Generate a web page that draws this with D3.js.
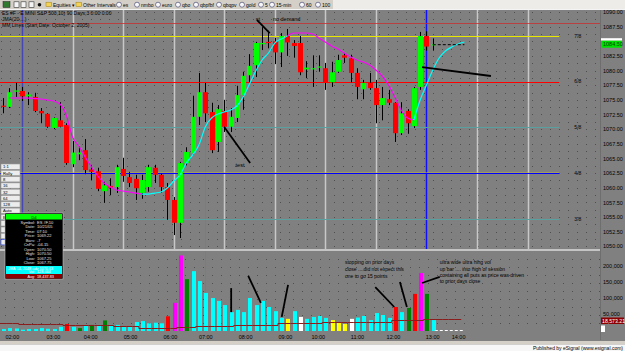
<!DOCTYPE html>
<html>
<head>
<meta charset="utf-8">
<script src="https://cdn.jsdelivr.net/npm/d3@7"></script>
<style>
  body { margin: 0; background: #808080; overflow: hidden; }
  svg { display: block; font-family: "Liberation Sans", Arial, sans-serif; }
</style>
</head>
<body>
<script>
// ES #F 10-min bars, one entry per bar (bar index 0..68)
var opens  = [1074.0, 1073.8, 1076.4, 1076.5, 1075.6, 1075.5, 1073.1, 1072.6, 1070.2, 1071.5,
              1070.7, 1064.0, 1065.7, 1066.4, 1063.1, 1062.8, 1059.4, 1060.3, 1060.1, 1063.2,
              1061.8, 1061.5, 1059.1, 1060.1, 1063.4, 1062.2, 1060.1, 1057.9, 1054.0, 1064.2,
              1065.9, 1072.1, 1076.3, 1072.9, 1067.8, 1073.1, 1070.4, 1071.9, 1075.8, 1079.2,
              1080.9, 1084.5, 1084.9, 1085.0, 1083.1, 1085.9, 1084.7, 1084.7, 1080.2, 1080.3,
              1080.5, 1080.4, 1078.0, 1079.8, 1082.6, 1082.1, 1079.6, 1076.8, 1077.9, 1077.0,
              1074.1, 1075.1, 1074.5, 1069.3, 1073.1, 1070.5, 1077.2, 1085.9, 1084.3];
var highs  = [1075.3, 1077.0, 1077.9, 1077.2, 1076.3, 1076.2, 1073.6, 1072.7, 1072.0, 1074.6,
              1071.0, 1068.0, 1067.1, 1068.3, 1063.9, 1063.4, 1061.0, 1061.6, 1063.9, 1065.1,
              1062.7, 1062.2, 1062.2, 1063.9, 1063.9, 1062.5, 1060.8, 1058.4, 1064.4, 1066.9,
              1075.7, 1079.6, 1077.9, 1074.5, 1074.1, 1075.0, 1073.6, 1077.4, 1079.8, 1082.8,
              1084.9, 1087.4, 1086.8, 1085.6, 1086.4, 1087.1, 1085.2, 1085.9, 1081.6, 1082.6,
              1082.6, 1081.3, 1081.5, 1082.7, 1083.0, 1082.7, 1080.4, 1078.4, 1079.6, 1078.4,
              1077.2, 1076.7, 1074.6, 1074.6, 1073.4, 1077.2, 1086.6, 1086.7, 1085.5];
var lows   = [1072.7, 1073.6, 1075.5, 1074.8, 1074.1, 1072.9, 1071.0, 1070.2, 1070.0, 1070.3,
              1063.9, 1063.5, 1064.7, 1062.3, 1061.3, 1059.4, 1057.4, 1058.7, 1059.1, 1061.0,
              1060.1, 1057.9, 1058.1, 1059.3, 1060.8, 1059.1, 1054.5, 1051.9, 1051.4, 1063.8,
              1065.6, 1070.7, 1071.2, 1065.9, 1066.1, 1069.5, 1069.5, 1071.2, 1073.3, 1077.9,
              1078.9, 1083.5, 1083.8, 1081.1, 1080.6, 1082.5, 1082.2, 1079.2, 1078.7, 1077.2,
              1079.8, 1076.7, 1077.2, 1079.6, 1081.3, 1077.9, 1075.1, 1075.1, 1076.7, 1071.0,
              1071.5, 1074.1, 1067.8, 1069.0, 1069.2, 1070.2, 1076.7, 1083.4, 1083.4];
var closes = [1073.8, 1076.3, 1076.6, 1075.6, 1075.9, 1073.1, 1072.7, 1070.4, 1071.9, 1070.4,
              1064.2, 1066.0, 1066.0, 1063.0, 1062.7, 1059.8, 1060.4, 1060.0, 1063.5, 1062.0,
              1060.8, 1059.9, 1061.3, 1063.5, 1062.2, 1060.1, 1057.9, 1054.0, 1064.2, 1066.1,
              1072.1, 1076.3, 1072.7, 1066.4, 1073.4, 1070.4, 1072.1, 1075.8, 1079.1, 1080.8,
              1084.7, 1084.7, 1084.8, 1083.1, 1085.9, 1084.8, 1084.2, 1079.7, 1080.5, 1080.4,
              1080.7, 1077.9, 1079.7, 1081.8, 1082.2, 1079.6, 1077.2, 1077.9, 1077.0, 1074.1,
              1075.3, 1074.5, 1069.3, 1072.7, 1071.0, 1077.0, 1085.9, 1084.1, 1084.5];

// volume per bar, thousands of contracts
var volumes = [6, 9, 8, 4, 6, 6, 9, 7, 6, 13,
               22, 13, 9, 18, 19, 19, 33, 19, 19, 13,
               13, 28, 31, 24, 26, 24, 46, 88, 236, 162,
               187, 156, 119, 103, 94, 81, 59, 66, 59, 103,
               81, 94, 75, 62, 41, 38, 62, 44, 38, 44,
               47, 41, 34, 28, 22, 38, 42, 47, 34, 56,
               50, 41, 75, 59, 72, 116, 181, 116, 34];
// volume bar class: c=cyan, r=red, g=green, m=magenta, y=yellow, w=white
var volClass = ("cccccccccc" + "rcgcgcg" + "ccccccccc" + "rmmg" + "ccccccccccccccc" +
                "ycw" + "cccc" + "yyyw" + "cccccc" + "rcgrmgc").split("");
// volume average (thousands), bars 0..73
var volAvg = [26, 26, 26, 23, 23, 23, 21, 21, 21, 21, 20, 20, 20, 20, 18, 18, 18, 18,
              16, 16, 16, 16, 10, 10, 10, 10, 10, 10, 13, 13, 13, 17, 17, 17, 17, 17, 17,
              20, 20, 20, 20, 20, 20, 20, 25, 25, 25, 25, 25, 25, 25, 28, 28, 28, 28, 28,
              28, 28, 28, 28, 28, 28, 34, 34, 34, 34, 34, 37, 37, 37, 37, 37, 37, 37];

// JMA(20) values, bars 1..73, and trend of each segment (d = falling, u = rising)
var jmaFirst = 1;
var jma = [1075.31, 1075.31, 1075.31, 1075.30, 1075.22, 1075.14, 1074.97, 1074.80, 1074.28, 1072.41,
           1068.65, 1067.11, 1065.23, 1063.52, 1061.99, 1060.79, 1060.11, 1059.60, 1059.43, 1059.26,
           1059.08, 1058.91, 1058.91, 1059.08, 1059.26, 1059.94, 1061.13, 1062.16, 1064.21, 1065.57,
           1067.28, 1070.36, 1071.89, 1072.58, 1072.92, 1073.26, 1073.94, 1075.48, 1077.70, 1079.92,
           1081.80, 1083.00, 1084.70, 1085.39, 1085.90, 1086.41, 1086.41, 1086.41, 1086.24, 1085.56,
           1084.87, 1084.19, 1083.68, 1083.00, 1082.31, 1081.80, 1081.46, 1080.95, 1080.09, 1079.07,
           1077.53, 1075.48, 1073.26, 1071.89, 1071.55, 1074.97, 1077.53, 1080.09, 1082.14, 1083.34,
           1084.02, 1084.53, 1084.87];
var jmaTrend = ("ddddddddddddddddddddd" + "uuuuuuuuuuuuuuuuuuuuuuu" +
                "dddddddddddddddddddd" + "uuuuuuuu").split("");

// Murrey Math lines
var mmNames  = ["3/8", "4/8", "5/8", "6/8", "7/8"];
var mmLevels = [1054.6875, 1062.5, 1070.3125, 1078.125, 1085.9375];
var priorHigh = 1088.12;
var lastPrice = 1084.50;
var lastProjection = [68, 73];

// price and volume axis ticks (1085.00 sits under the last price tag)
var priceTicks = [1050, 1052.5, 1055, 1057.5, 1060, 1062.5, 1065, 1067.5, 1070, 1072.5,
                  1075, 1077.5, 1080, 1082.5, 1087.5, 1090];
var volTicks = [50, 100, 150, 200];

// time axis
var timeLabels = ["02:00", "03:00", "04:00", "05:00", "06:00", "07:00", "08:00",
                  "09:00", "10:00", "11:00", "12:00", "13:00", "14:00"];
var timeIdx = [1.4, 7.9, 13.8, 20.1, 26.4, 32, 38.3, 44.6, 49.8, 56, 61.7, 67.9, 72];
var sessionBars = [3, 11, 19, 27, 35, 43, 51, 59, 67, 75, 83];
var blueBars = [3, 67];
var openBar = 32;

// hand drawn notes: [bar, price] pairs and [bar, volume] pairs
var priceNotes = [[[40.2, 1088.63], [42.2, 1086.41]],
                  [[35.0, 1070.36], [39.1, 1064.21]],
                  [[66.3, 1080.60], [77.2, 1079.07]]];
var priceLabels = [["st", 40.0, 1088.5], ["no demand", 42.7, 1088.5], ["test", 36.8, 1063.6]];
var volNotes = [[[36.1, 134], [36.1, 59]],
                [[38.8, 172], [40.8, 88]],
                [[45.1, 144], [44.1, 44]],
                [[58.9, 137], [61.9, 75]],
                [[62.8, 153], [63.9, 75]],
                [[66.3, 150], [69.1, 169]]];
var volText1 = ["stopping on prior days", "close ....did not expect this", "one to go 15 points"];
var volText2 = ["ultra wide ultra hihg vol", "up bar .... into high of session",
                "containing all puts as price was driven", "to prior days close"];

// ---------------------------------------------------------------
var W = 625, H = 351;
var plotRight = 600, pTop = 10, pBottom = 249, vTop = 251, vBottom = 332;

var svg = d3.select("body").append("svg").attr("width", W).attr("height", H);

var x = d3.scaleLinear().domain([0, 83]).range([3, 527.6]);
var y = d3.scaleLinear().domain([1050, 1090]).range([246.2, 12]);
var yv = d3.scaleLinear().domain([0, 200]).range([331, 267]);
var px = function (i) { return Math.round(x(i)); };

svg.append("rect").attr("width", W).attr("height", H).attr("fill", "#808080");

var defs = svg.append("defs");
defs.append("clipPath").attr("id", "pclip").append("rect")
  .attr("x", 0).attr("y", pTop).attr("width", plotRight).attr("height", pBottom - pTop);
defs.append("clipPath").attr("id", "vclip").append("rect")
  .attr("x", 0).attr("y", vTop).attr("width", plotRight).attr("height", vBottom - vTop);

// dotted grid
var grid = svg.append("g").attr("stroke", "#4e4e4e").attr("stroke-width", 1)
  .attr("stroke-dasharray", "1,8");
grid.selectAll("line.p").data(d3.range(1050, 1090.1, 1.25)).join("line")
  .attr("x1", 1).attr("x2", plotRight)
  .attr("y1", function (d) { return Math.round(y(d)) + 0.5; })
  .attr("y2", function (d) { return Math.round(y(d)) + 0.5; });
grid.selectAll("line.v").data(d3.range(25, 250, 25)).join("line")
  .attr("x1", 5).attr("x2", plotRight)
  .attr("y1", function (d) { return Math.round(yv(d)) + 0.5; })
  .attr("y2", function (d) { return Math.round(yv(d)) + 0.5; });

// session lines
svg.append("g").selectAll("line").data(sessionBars).join("line")
  .attr("x1", function (d) { return px(d) + 0.5; }).attr("x2", function (d) { return px(d) + 0.5; })
  .attr("y1", pTop).attr("y2", pBottom)
  .attr("stroke", function (d) { return blueBars.indexOf(d) >= 0 ? (d < 10 ? "#4646b4" : "#1010ff") : "#c8c8c8"; })
  .attr("stroke-width", 1.5);

svg.append("line")
  .attr("x1", px(openBar) + 0.5).attr("x2", px(openBar) + 0.5)
  .attr("y1", pTop).attr("y2", vBottom)
  .attr("stroke", "#e05050").attr("stroke-width", 0.8);

// prior high and MM lines
svg.append("line").attr("x1", 0).attr("x2", plotRight)
  .attr("y1", Math.round(y(priorHigh)) + 0.5).attr("y2", Math.round(y(priorHigh)) + 0.5)
  .attr("stroke", "#c83030").attr("stroke-width", 0.8);

var mmColor = { "3/8": "#5aa0a0", "4/8": "#0000ff", "5/8": "#5aa0a0", "6/8": "#ff0000", "7/8": "#e8e800" };
var mm = svg.append("g");
mm.append("line").attr("x1", 0).attr("x2", x(88))
  .attr("y1", Math.round(y(mmLevels[1])) - 0.3).attr("y2", Math.round(y(mmLevels[1])) - 0.3)
  .attr("stroke", "#c8c040").attr("stroke-width", 0.6);
mm.selectAll("line.mm").data(mmLevels).join("line")
  .attr("x1", 0).attr("x2", x(88))
  .attr("y1", function (d) { return Math.round(y(d)) + 0.5; })
  .attr("y2", function (d) { return Math.round(y(d)) + 0.5; })
  .attr("stroke", function (d, i) { return mmColor[mmNames[i]]; })
  .attr("stroke-width", 1);
mm.selectAll("text").data(mmLevels).join("text")
  .attr("x", x(90.4)).attr("y", function (d) { return y(d) + 1.8; })
  .attr("font-size", 5).attr("fill", "#000")
  .text(function (d, i) { return mmNames[i]; });

// candles
var pc = svg.append("g").attr("clip-path", "url(#pclip)");
pc.selectAll("line.wick").data(opens).join("line")
  .attr("x1", function (d, i) { return px(i) + 0.5; })
  .attr("x2", function (d, i) { return px(i) + 0.5; })
  .attr("y1", function (d, i) { return y(highs[i]); })
  .attr("y2", function (d, i) { return y(lows[i]); })
  .attr("stroke", "#000").attr("stroke-width", 1);
pc.selectAll("rect.body").data(opens).join("rect")
  .attr("x", function (d, i) { return px(i) - 2; })
  .attr("width", 5)
  .attr("y", function (d, i) { return y(Math.max(d, closes[i])); })
  .attr("height", function (d, i) { return Math.max(1.2, Math.abs(y(d) - y(closes[i]))); })
  .attr("fill", function (d, i) { return closes[i] >= d ? "#00ff00" : "#ff0000"; });

// JMA line, coloured by trend
var jmaPts = jma.map(function (v, k) { return [x(k + jmaFirst), y(v)]; });
var runs = [], cur = null;
jmaTrend.forEach(function (t, k) {
  if (!cur || cur.t !== t) { cur = { t: t, pts: [jmaPts[k]] }; runs.push(cur); }
  cur.pts.push(jmaPts[k + 1]);
});
var jLine = d3.line().curve(d3.curveMonotoneX);
pc.selectAll("path.jma").data(runs).join("path")
  .attr("d", function (r) { return jLine(r.pts); })
  .attr("fill", "none")
  .attr("stroke", function (r) { return r.t === "d" ? "#ff00ff" : "#00ffff"; })
  .attr("stroke-width", 1.2);

// last price projection
pc.append("line")
  .attr("x1", x(lastProjection[0])).attr("x2", x(lastProjection[1]))
  .attr("y1", y(lastPrice) + 0.5).attr("y2", y(lastPrice) + 0.5)
  .attr("stroke", "#000").attr("stroke-dasharray", "3,2").attr("stroke-width", 1);

// notes on price panel
pc.selectAll("line.note").data(priceNotes).join("line")
  .attr("x1", function (d) { return x(d[0][0]); }).attr("y1", function (d) { return y(d[0][1]); })
  .attr("x2", function (d) { return x(d[1][0]); }).attr("y2", function (d) { return y(d[1][1]); })
  .attr("stroke", "#000").attr("stroke-width", 1.8);
svg.append("g").selectAll("text").data(priceLabels).join("text")
  .attr("x", function (d) { return x(d[1]); }).attr("y", function (d) { return y(d[2]); })
  .attr("font-size", 5.5).attr("fill", "#000")
  .text(function (d) { return d[0]; });

// panel separator
svg.append("rect").attr("x", 0).attr("y", pBottom).attr("width", plotRight).attr("height", 2)
  .attr("fill", "#c4c4c4");

// volume
var vc = svg.append("g").attr("clip-path", "url(#vclip)");
var volColor = { c: "#00ffff", r: "#ff0000", g: "#008000", m: "#ff00ff", y: "#ffff00", w: "#ffffff" };
vc.selectAll("rect.vol").data(volumes).join("rect")
  .attr("x", function (d, i) { return px(i) - 1; })
  .attr("width", 4)
  .attr("y", function (d) { return yv(d); })
  .attr("height", function (d) { return yv(0) - yv(d); })
  .attr("fill", function (d, i) { return volColor[volClass[i]]; });
vc.append("path")
  .attr("d", d3.line().curve(d3.curveStepAfter)
    .x(function (d, i) { return x(i - 0.5); }).y(function (d) { return Math.round(yv(d)) + 0.5; })(volAvg))
  .attr("fill", "none").attr("stroke", "#8b1c1c").attr("stroke-width", 1);
vc.append("line")
  .attr("x1", x(lastProjection[0]) + 2).attr("x2", x(lastProjection[1]))
  .attr("y1", yv(0) - 0.5).attr("y2", yv(0) - 0.5)
  .attr("stroke", "#ffffff").attr("stroke-dasharray", "3,2");
vc.selectAll("line.note").data(volNotes).join("line")
  .attr("x1", function (d) { return x(d[0][0]); }).attr("y1", function (d) { return yv(d[0][1]); })
  .attr("x2", function (d) { return x(d[1][0]); }).attr("y2", function (d) { return yv(d[1][1]); })
  .attr("stroke", "#000").attr("stroke-width", 1.8);

var vt = svg.append("g").attr("font-size", 5).attr("fill", "#000");
vt.selectAll("text.a").data(volText1).join("text").attr("class", "a")
  .attr("x", x(54.1)).attr("y", function (d, k) { return yv(209) + k * 6.8; }).text(function (d) { return d; });
vt.selectAll("text.b").data(volText2).join("text").attr("class", "b")
  .attr("x", x(69.1)).attr("y", function (d, k) { return yv(209) + k * 6.4; }).text(function (d) { return d; });

// axes
svg.append("line").attr("x1", plotRight + 0.5).attr("x2", plotRight + 0.5)
  .attr("y1", pTop).attr("y2", vBottom + 8).attr("stroke", "#6e6e6e");

var ay = svg.append("g").attr("transform", "translate(" + (plotRight + 1) + ",0)")
  .call(d3.axisRight(y).tickValues(priceTicks).tickSize(0).tickPadding(2)
    .tickFormat(d3.format(".2f")));
var av = svg.append("g").attr("transform", "translate(" + (plotRight + 1) + ",-1.5)")
  .call(d3.axisRight(yv).tickValues(volTicks).tickSize(0).tickPadding(2)
    .tickFormat(function (d) { return d3.format(",")(d * 1000); }));
var at = svg.append("g").attr("transform", "translate(0," + vBottom + ")")
  .call(d3.axisBottom(x).tickValues(timeIdx).tickSize(0).tickPadding(3)
    .tickFormat(function (d, k) { return timeLabels[k]; }));
[ay, av, at].forEach(function (a) {
  a.select(".domain").remove();
  a.attr("font-size", 5.5).attr("font-family", "'Liberation Sans', Arial, sans-serif");
  a.selectAll("text").attr("fill", "#000");
});

// current price and volume tags
var tag = svg.append("g");
tag.append("rect").attr("x", plotRight + 1).attr("y", y(lastPrice) - 6).attr("width", 21).attr("height", 2.5).attr("fill", "#ffffff");
tag.append("rect").attr("x", plotRight + 1).attr("y", y(lastPrice) - 3.5).attr("width", 21).attr("height", 7).attr("fill", "#00e000");
tag.append("text").attr("x", plotRight + 3).attr("y", y(lastPrice) + 2).attr("font-size", 5.5).attr("fill", "#004000")
  .text(d3.format(".2f")(lastPrice));
tag.append("rect").attr("x", plotRight + 1).attr("y", 317.5).attr("width", 23).attr("height", 6.5).attr("fill", "#8b0000");
tag.append("text").attr("x", plotRight + 2).attr("y", 322.6).attr("font-size", 5.2).attr("fill", "#ffffff").text("18,573.21");
tag.append("rect").attr("x", plotRight + 1).attr("y", 325.5).attr("width", 4).attr("height", 6.5).attr("fill", "#ffffff");

// title block
var titles = ["ES #F - E MINI S&P 500,10) 90 Days;3 0:00 0:00", "JMA(20,...)",
              "MM Lines (Start Date: October 2, 2005)"];
svg.append("g").selectAll("text").data(titles).join("text")
  .attr("x", 2).attr("y", function (d, k) { return 15 + k * 6.2; })
  .attr("font-size", 5).attr("fill", "#000").text(function (d) { return d; });

// left buttons
var buttons = ["1:1", "Rally", "8", "16", "32", "64", "128", "Auto", "B", "", "", "", ""];
var bg = svg.append("g");
bg.selectAll("rect").data(buttons).join("rect")
  .attr("x", 1).attr("y", function (d, k) { return 164 + k * 6.3; })
  .attr("width", 19).attr("height", 5.3)
  .attr("fill", "#ececec").attr("stroke", function (d, k) { return k === 12 ? "#2040ff" : "#9a9a9a"; })
  .attr("stroke-width", 0.6);
bg.selectAll("text").data(buttons).join("text")
  .attr("x", 3).attr("y", function (d, k) { return 168.3 + k * 6.3; })
  .attr("font-size", 4.2).attr("fill", "#000").text(function (d) { return d; });

// data window
var dw = svg.append("g");
dw.append("rect").attr("x", 5).attr("y", 213).attr("width", 58).attr("height", 66).attr("fill", "#000").attr("stroke", "#c0c0c0").attr("stroke-width", 0.6);
dw.append("rect").attr("x", 6).attr("y", 214).attr("width", 56).attr("height", 5.5).attr("fill", "#00ff00");
dw.append("text").attr("x", 34).attr("y", 218.5).attr("text-anchor", "middle").attr("font-size", 4.2).text("D4");
var dwRows = [["Symbol", "ES #F,10"], ["Date", "10/21/05"], ["Time", "07:10"], ["Price", "1069.22"],
              ["Bars", "-7"], ["CnPa", "-04.15"], ["Open", "1070.50"], ["High", "1070.50"],
              ["Low", "1067.25"], ["Close", "1067.75"]];
dw.selectAll("text.l").data(dwRows).join("text").attr("class", "l")
  .attr("x", 35).attr("y", function (d, k) { return 224 + k * 4.45; })
  .attr("text-anchor", "end").attr("font-size", 4).attr("fill", "#e0e0e0")
  .text(function (d) { return d[0] + ":"; });
dw.selectAll("text.v").data(dwRows).join("text").attr("class", "v")
  .attr("x", 37).attr("y", function (d, k) { return 224 + k * 4.45; })
  .attr("font-size", 4).attr("fill", "#e0e0e0")
  .text(function (d) { return d[1]; });
dw.append("rect").attr("x", 6).attr("y", 266).attr("width", 56).attr("height", 8).attr("fill", "#00ffff");
dw.append("text").attr("x", 8).attr("y", 269.6).attr("font-size", 3.8).attr("fill", "#ffffff").text("JMA 14, 2048 adv  1070.63");
dw.append("text").attr("x", 35).attr("y", 273.4).attr("text-anchor", "end").attr("font-size", 3.8).attr("fill", "#ffffff").text("Vol:");
dw.append("text").attr("x", 37).attr("y", 273.4).attr("font-size", 3.8).attr("fill", "#ffffff").text("128,664");
dw.append("rect").attr("x", 6).attr("y", 274).attr("width", 56).attr("height", 4.5).attr("fill", "#8b0000");
dw.append("text").attr("x", 35).attr("y", 277.7).attr("text-anchor", "end").attr("font-size", 3.8).attr("fill", "#ffffff").text("Avg:");
dw.append("text").attr("x", 37).attr("y", 277.7).attr("font-size", 3.8).attr("fill", "#ffffff").text("18,437.83");

// toolbar
var tb = svg.append("g");
tb.append("rect").attr("width", W).attr("height", 9.5).attr("fill", "#d4d0c8");
tb.append("rect").attr("x", 333).attr("width", W - 333).attr("height", 9.5).attr("fill", "#eeece8");
tb.append("rect").attr("y", 9).attr("width", W).attr("height", 1).attr("fill", "#f4f4f4");
tb.append("rect").attr("x", 3).attr("y", 1.5).attr("width", 7).attr("height", 6).attr("fill", "#2f7a2f").attr("stroke", "#222").attr("stroke-width", 0.5);
[14, 21, 29].forEach(function (d) {
  tb.append("rect").attr("x", d).attr("y", 1.8).attr("width", 5).attr("height", 5.5).attr("fill", "#f4f4f4").attr("stroke", "#333").attr("stroke-width", 0.6);
});
tb.append("circle").attr("cx", 39.5).attr("cy", 4.7).attr("r", 1.8).attr("fill", "#111");
var folders = [[46, "Equities \u25BE"], [76, "Other Intervals \u25BE"]];
folders.forEach(function (f) {
  tb.append("rect").attr("x", f[0]).attr("y", 2.2).attr("width", 5.5).attr("height", 4.5).attr("fill", "#f2d35a").attr("stroke", "#9a7a20").attr("stroke-width", 0.5);
  tb.append("text").attr("x", f[0] + 7).attr("y", 6.8).attr("font-size", 5).attr("fill", "#000").text(f[1]);
});
var symbols = [[119, "es"], [137, "nmbo"], [158, "euro"], [178, "qbo"], [196, "qbpfbf"],
               [219, "qbqpv"], [242, "gold"], [261, "5"], [272, "15-min"], [302, "60"], [318, "100"]];
symbols.forEach(function (s) {
  tb.append("circle").attr("cx", s[0]).attr("cy", 4.7).attr("r", 2.5).attr("fill", "#f8f8f8").attr("stroke", "#333366").attr("stroke-width", 0.6);
  tb.append("text").attr("x", s[0] + 4).attr("y", 6.8).attr("font-size", 5).attr("fill", "#000").text(s[1]);
});

// footer
svg.append("rect").attr("x", 0).attr("y", 341).attr("width", W).attr("height", 3.5).attr("fill", "#d4d0c8");
svg.append("rect").attr("x", 0).attr("y", 344.5).attr("width", W).attr("height", 6.5).attr("fill", "#f7f7f7");
svg.append("text").attr("x", 623).attr("y", 350).attr("text-anchor", "end").attr("font-size", 5)
  .attr("fill", "#000").text("Published by eSignal (www.esignal.com)");
</script>
</body>
</html>
